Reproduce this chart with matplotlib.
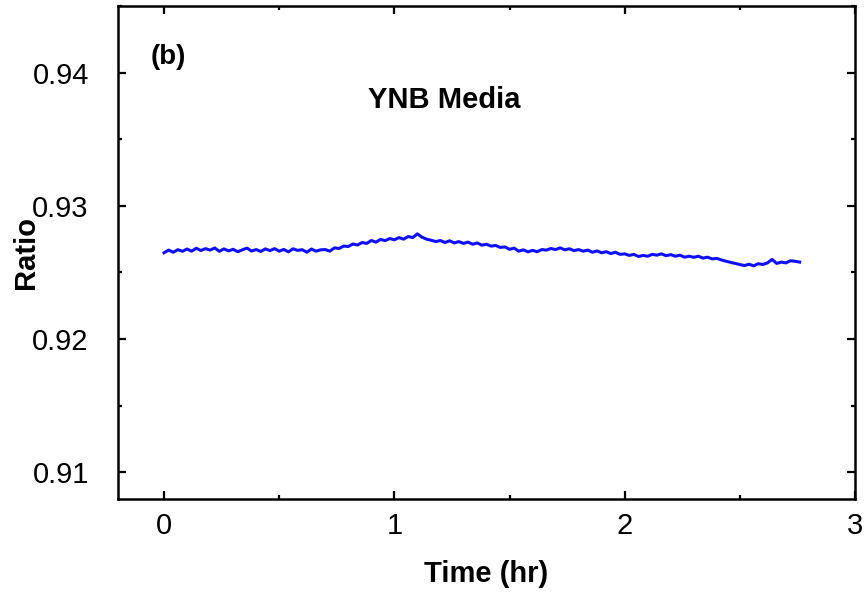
# -*- coding: utf-8 -*-
""" Ratio vs time, YNB media
"""

import numpy as np
import matplotlib

matplotlib.use("Agg")
import matplotlib.pyplot as plt
from matplotlib.ticker import MultipleLocator

# Ratio, one value every 0.02 hr
ratio = [
    0.92648, 0.92668, 0.92652, 0.92671, 0.92659,
    0.92676, 0.92660, 0.92682, 0.92665, 0.92679,
    0.92668, 0.92684, 0.92659, 0.92677, 0.92662,
    0.92674, 0.92656, 0.92670, 0.92683, 0.92661,
    0.92672, 0.92658, 0.92677, 0.92664, 0.92679,
    0.92660, 0.92673, 0.92655, 0.92678, 0.92666,
    0.92671, 0.92652, 0.92676, 0.92660, 0.92670,
    0.92672, 0.92660, 0.92685, 0.92680, 0.92698,
    0.92695, 0.92714, 0.92706, 0.92725, 0.92718,
    0.92740, 0.92728, 0.92748, 0.92739, 0.92755,
    0.92745, 0.92762, 0.92750, 0.92770, 0.92762,
    0.92790, 0.92765, 0.92750, 0.92742, 0.92732,
    0.92740, 0.92725, 0.92738, 0.92722, 0.92732,
    0.92718, 0.92728, 0.92712, 0.92722, 0.92705,
    0.92712, 0.92698, 0.92703, 0.92688, 0.92692,
    0.92674, 0.92683, 0.92660, 0.92670, 0.92655,
    0.92666, 0.92656, 0.92672, 0.92668, 0.92680,
    0.92672, 0.92685, 0.92670, 0.92678, 0.92664,
    0.92672, 0.92660, 0.92668, 0.92652, 0.92662,
    0.92648, 0.92656, 0.92642, 0.92652, 0.92636,
    0.92640, 0.92628, 0.92636, 0.92620, 0.92628,
    0.92622, 0.92636, 0.92630, 0.92640, 0.92626,
    0.92634, 0.92622, 0.92630, 0.92615, 0.92622,
    0.92614, 0.92622, 0.92608, 0.92615, 0.92602,
    0.92606, 0.92594, 0.92585, 0.92576, 0.92568,
    0.92560, 0.92552, 0.92562, 0.92550, 0.92566,
    0.92560, 0.92572, 0.92598, 0.92568, 0.92578,
    0.92572, 0.92588, 0.92584, 0.92578,
]
time_step_hr = 0.02
time_hr = np.arange(len(ratio)) * time_step_hr

x_ticks = [0, 1, 2, 3]
y_ticks = [0.91, 0.92, 0.93, 0.94]
y_tick_labels = ["0.91", "0.92", "0.93", "0.94"]

plt.rcParams["font.family"] = ["Liberation Sans", "DejaVu Sans"]

fig = plt.figure(figsize=(8.65, 5.93), dpi=100)
ax = fig.add_axes([0.1364, 0.1585, 0.852, 0.8314])

ax.plot(time_hr, ratio, color="#1010ff", lw=2.2)

ax.set_xlim(-0.2, 3.0)
ax.set_ylim(0.908, 0.945)
ax.set_xticks(x_ticks)
ax.set_yticks(y_ticks)
ax.set_yticklabels(y_tick_labels)
ax.xaxis.set_minor_locator(MultipleLocator(0.5))
ax.yaxis.set_minor_locator(MultipleLocator(0.005))

for side in ax.spines.values():
    side.set_linewidth(1.8)

ax.tick_params(which="both", direction="in", top=True, right=True, width=1.6)
ax.tick_params(which="major", length=6)
ax.tick_params(which="minor", length=3)
ax.tick_params(axis="x", which="major", labelsize=21, pad=9)
ax.tick_params(axis="y", which="major", labelsize=21, pad=21)

ax.set_xlabel("Time (hr)", fontsize=21, fontweight="bold")
ax.set_ylabel("Ratio", fontsize=21, fontweight="bold")
ax.xaxis.set_label_coords(0.5, -0.124)
ax.yaxis.set_label_coords(-0.106, 0.5)

ax.text(-0.06, 0.9412, "(b)", fontsize=20, fontweight="bold", va="center")
ax.text(1.216, 0.93798, "YNB Media", fontsize=21, fontweight="bold",
        ha="center", va="center")

plt.savefig("out.png", dpi=100)
